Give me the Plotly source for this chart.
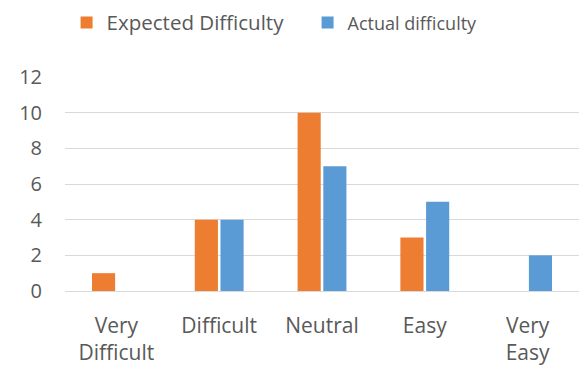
import plotly.graph_objects as go

categories = ["Very<br>Difficult", "Difficult", "Neutral", "Easy", "Very<br>Easy"]
expected = [1, 4, 10, 3, 0]
actual = [0, 4, 7, 5, 2]

ORANGE = "#ED7D31"
BLUE = "#5B9BD5"
TEXT = "#595959"
FONT = "Open Sans, Noto Sans, sans-serif"

fig = go.Figure()
fig.add_trace(go.Bar(
    x=categories, y=expected,
    name="Expected Difficulty",
    marker=dict(color=ORANGE, line=dict(width=0)),
))
fig.add_trace(go.Bar(
    x=categories, y=actual,
    name='<span style="font-size:18px">Actual difficulty</span>',
    marker=dict(color=BLUE, line=dict(width=0)),
))

fig.update_layout(
    width=579, height=371,
    margin=dict(l=65, r=0, t=77, b=80),
    paper_bgcolor="white", plot_bgcolor="white",
    barmode="group", bargap=0.5, bargroupgap=0.1,
    font=dict(family=FONT, size=20, color=TEXT),
    showlegend=True,
    legend=dict(
        orientation="h",
        xref="container", yref="container",
        x=0.115, y=0.993, xanchor="left", yanchor="top",
        font=dict(size=20.5, color=TEXT),
        itemwidth=30,
        entrywidth=196, entrywidthmode="pixels",
        traceorder="normal",
        bgcolor="rgba(0,0,0,0)",
    ),
)
fig.update_xaxes(
    showgrid=False, showline=False, ticks="",
    tickfont=dict(size=21, color=TEXT),
    ticklabelstandoff=20,
)
fig.update_yaxes(
    range=[0, 12], dtick=2, tick0=0,
    showgrid=True, gridcolor="#D9D9D9", gridwidth=1,
    zeroline=True, zerolinecolor="#D9D9D9", zerolinewidth=1,
    showline=False, ticks="",
    tickfont=dict(size=20, color=TEXT),
    ticklabelstandoff=22,
)

fig.write_html("out.html")
